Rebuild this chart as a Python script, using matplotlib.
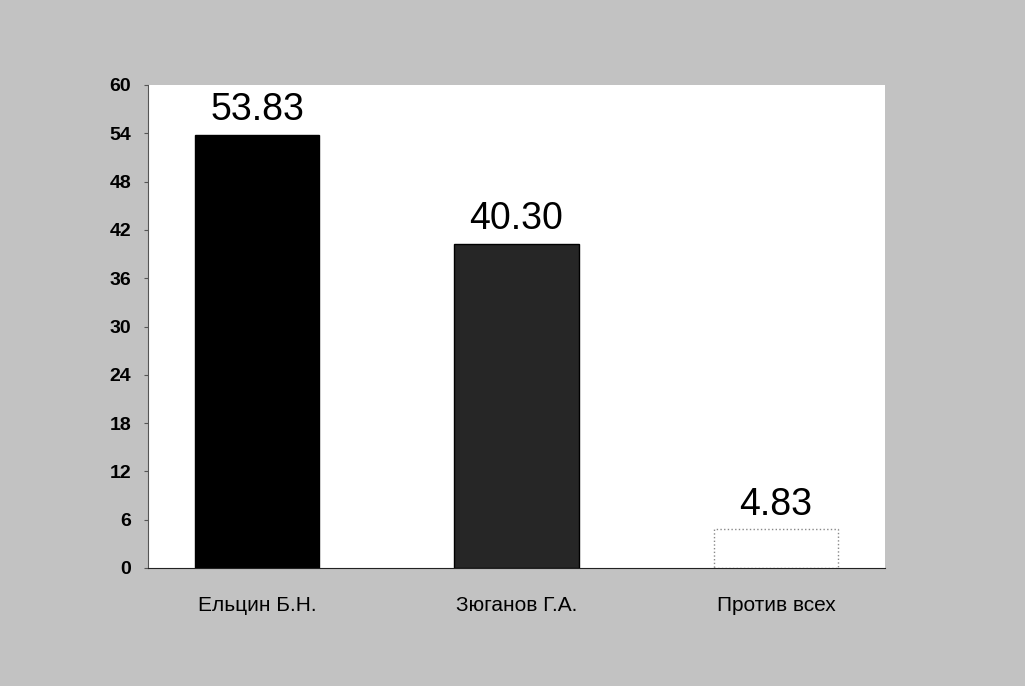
import matplotlib
matplotlib.use('Agg')
import matplotlib.pyplot as plt

# candidates and vote shares, %
candidates = ['Ельцин Б.Н.', 'Зюганов Г.А.', 'Против всех']
shares = [53.83, 40.30, 4.83]
share_labels = ['53.83', '40.30', '4.83']
y_ticks = [0, 6, 12, 18, 24, 30, 36, 42, 48, 54, 60]

plt.rcParams['font.family'] = ['Liberation Sans', 'DejaVu Sans']

fig = plt.figure(figsize=(10.25, 6.86), dpi=100)
fig.patch.set_facecolor('#c2c2c2')
ax = fig.add_axes([148/1025, 1 - 568/686, (885-148)/1025, (568-85)/686])
ax.set_facecolor('white')

x = list(range(len(candidates)))
bars = ax.bar(x, shares, width=0.48, color=['#000000', '#262626', '#ffffff'],
              edgecolor=['#000000', '#000000', '#888888'], linewidth=1)
bars[2].set_linestyle(':')

for xi, v, lab in zip(x, shares, share_labels):
    ax.text(xi, v + 0.8, lab, ha='center', va='bottom', fontsize=27)

ax.set_ylim(0, 60)
ax.set_xlim(-0.42, 2.42)
ax.set_yticks(y_ticks)
ax.set_yticklabels([str(t) for t in y_ticks], fontsize=14, fontweight='bold')
ax.set_xticks(x)
ax.set_xticklabels(candidates, fontsize=15)
ax.tick_params(axis='x', length=0, pad=20)
ax.tick_params(axis='y', length=3, pad=9, colors='#555555', labelcolor='black')
ax.spines['top'].set_visible(False)
ax.spines['right'].set_visible(False)
ax.spines['left'].set_color('#555555')
ax.spines['bottom'].set_color('#222222')

plt.savefig('out.png', dpi=100, facecolor=fig.get_facecolor())
